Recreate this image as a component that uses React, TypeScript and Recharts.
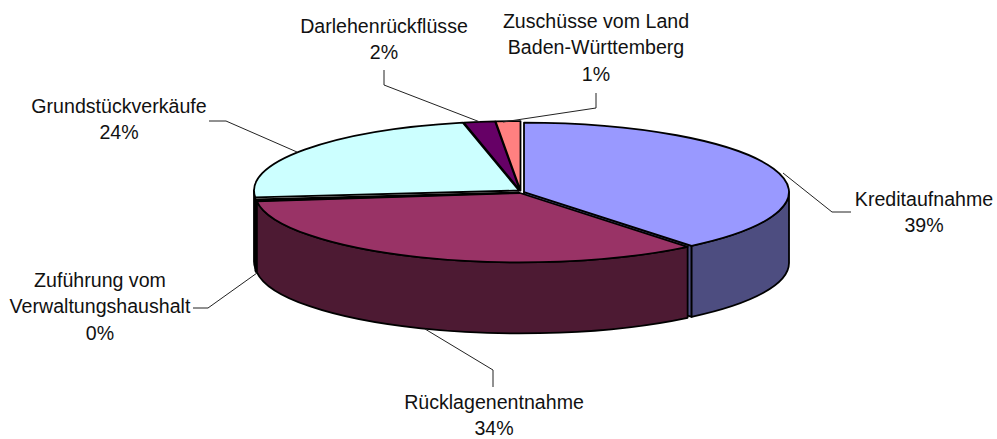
import React from 'react';
import { PieChart, Pie, Cell } from 'recharts';

const categories = ['Kreditaufnahme', 'Rücklagenentnahme', 'Zuführung vom\nVerwaltungshaushalt', 'Grundstückverkäufe', 'Darlehenrückflüsse', 'Zuschüsse vom Land\nBaden-Württemberg'];
const shares = [39.1, 34.0, 0.3, 23.2, 1.9, 1.5];
const percentLabels = ['39%', '34%', '0%', '24%', '2%', '1%'];
const topColors = ['#9999FF', '#993366', '#000000', '#CCFFFF', '#660066', '#FF8080'];
const wallColors = ['#4D4D80', '#4D1A33', '#000000', '#000000', '#330033', '#804040'];

const chartData = categories.map((name, i) => ({ name, value: shares[i] }));

// layout only
const TILT = 0.262;
const DEPTH = 71;
const sliceShift = [[3, 0], [-1, 1], [-2, 0.5], [-2, -1.5], [-1, -1.5], [-0.5, -1.5]];
const labelCenter = [924, 494, 100, 119, 384, 596];
const labelFirstLine = [206, 409, 287, 113, 33, 28];
const leaderPaths = [
  '783,173 832,212 851,212',
  '425,329 493,370 493,387',
  '257,273 208,308 193,308',
  '297,152 226,121 209,121',
  '480,122 384,85 384,70',
  '503,122 596,108 596,93',
];
const LINE_HEIGHT = 26.3;
const FONT = '"Liberation Sans", Arial, sans-serif';

function pt(cx: number, cy: number, rx: number, ry: number, clock: number) {
  const a = (clock * Math.PI) / 180;
  return [cx + rx * Math.sin(a), cy - ry * Math.cos(a)];
}

function Slice3D(props: any) {
  const { cx, cy, outerRadius, startAngle, endAngle, index, fill } = props;
  const [dx, dy] = sliceShift[index] ?? [0, 0];
  const x0 = cx + dx;
  const y0 = cy + dy;
  const rx = outerRadius;
  const ry = outerRadius * TILT;
  const t1 = 90 - startAngle;
  const t2 = 90 - endAngle;
  const [ax, ay] = pt(x0, y0, rx, ry, t1);
  const [bx, by] = pt(x0, y0, rx, ry, t2);
  const large = t2 - t1 > 180 ? 1 : 0;
  const top = `M${x0},${y0} L${ax},${ay} A${rx},${ry} 0 ${large} 1 ${bx},${by} Z`;
  const w1 = Math.max(t1, 90);
  const w2 = Math.min(t2, 270);
  let wall = null;
  if (w2 > w1) {
    const [wax, way] = pt(x0, y0, rx, ry, w1);
    const [wbx, wby] = pt(x0, y0, rx, ry, w2);
    const wl = w2 - w1 > 180 ? 1 : 0;
    wall = `M${wax},${way} A${rx},${ry} 0 ${wl} 1 ${wbx},${wby} L${wbx},${wby + DEPTH} A${rx},${ry} 0 ${wl} 0 ${wax},${way + DEPTH} Z`;
  }
  const cut = t2 > 90 && t2 < 180
    ? `M${x0},${y0} L${bx},${by} L${bx},${by + DEPTH} L${x0},${y0 + DEPTH} Z`
    : null;
  return (
    <g>
      {cut && <path d={cut} fill={wallColors[index]} stroke="#000" strokeWidth={1.8} strokeLinejoin="round" />}
      {wall && <path d={wall} fill={wallColors[index]} stroke="#000" strokeWidth={1.8} strokeLinejoin="round" />}
      <path d={top} fill={fill} stroke="#000" strokeWidth={1.8} strokeLinejoin="round" />
    </g>
  );
}

function SliceLabel(props: any) {
  const { index } = props;
  const lines = [...categories[index].split('\n'), percentLabels[index]];
  const x = labelCenter[index];
  return (
    <g>
      <polyline points={leaderPaths[index]} fill="none" stroke="#222" strokeWidth={1} />
      <text textAnchor="middle" fontFamily={FONT} fontSize={19.6} fill="#111">
        {lines.map((l, i) => (
          <tspan key={i} x={x} y={labelFirstLine[index] + i * LINE_HEIGHT}>{l}</tspan>
        ))}
      </text>
    </g>
  );
}

export default function App() {
  return (
    <div style={{ position: 'absolute', left: 0, top: 0, width: 997, height: 439, background: '#fff' }}>
      <PieChart width={997} height={439} margin={{ top: 0, right: 0, bottom: 0, left: 0 }}>
        <Pie
          data={chartData}
          dataKey="value"
          nameKey="name"
          cx={521}
          cy={192}
          innerRadius={0}
          outerRadius={265}
          startAngle={90}
          endAngle={-270}
          paddingAngle={0}
          isAnimationActive={false}
          shape={Slice3D}
          label={SliceLabel}
          labelLine={false}
        >
          {chartData.map((d, i) => (
            <Cell key={d.name} fill={topColors[i]} />
          ))}
        </Pie>
      </PieChart>
    </div>
  );
}
